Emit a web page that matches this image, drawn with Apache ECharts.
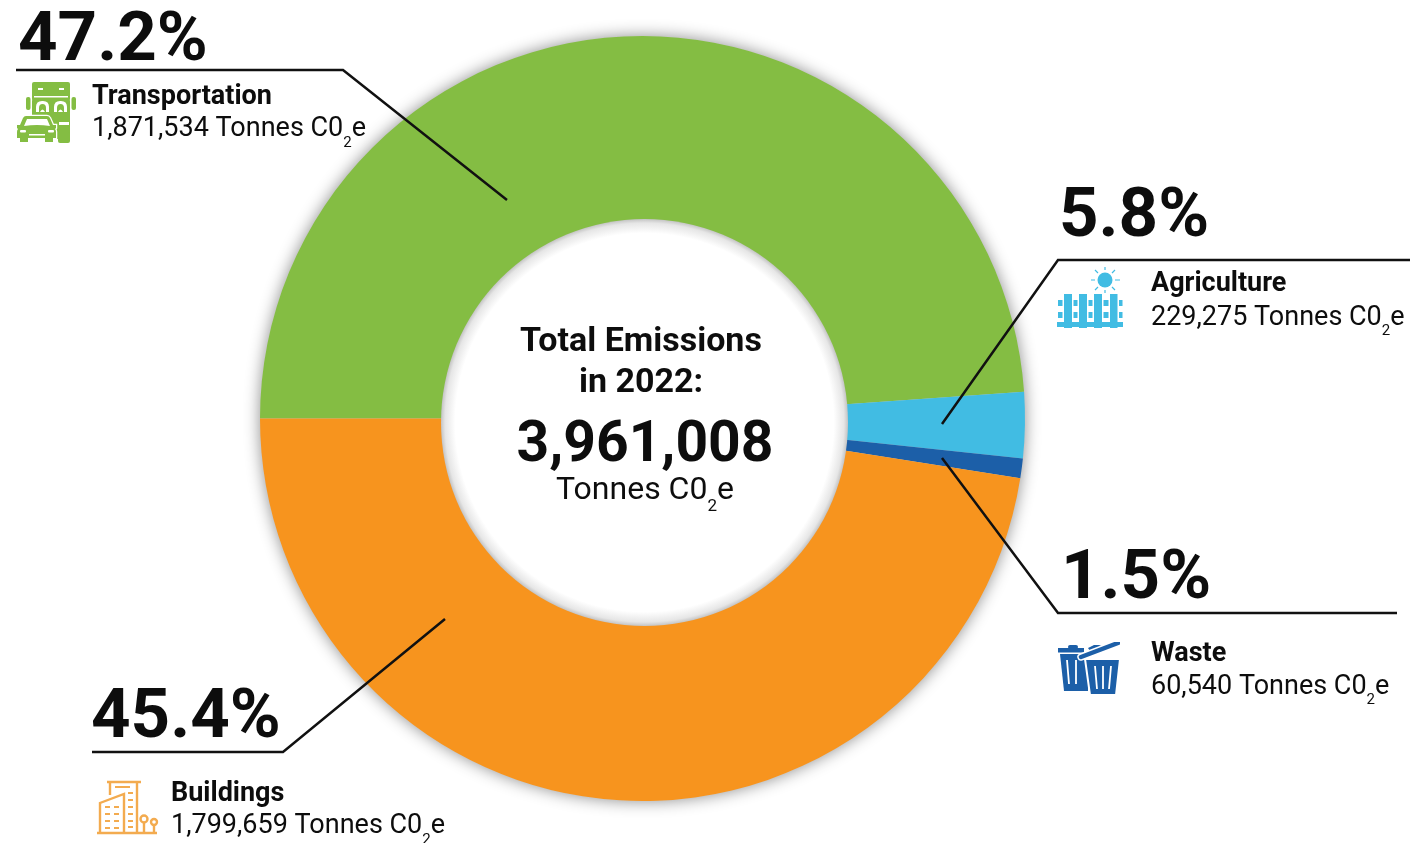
<!DOCTYPE html>
<html>
<head>
<meta charset="utf-8">
<title>Total Emissions in 2022</title>
<style>
  html, body { margin: 0; padding: 0; background: #fff; }
  #chart { width: 1412px; height: 843px; }
</style>
<script src="https://cdn.jsdelivr.net/npm/echarts@6/dist/echarts.min.js"></script>
</head>
<body>
<div id="chart"></div>
<script>
const categories = ['Transportation', 'Agriculture', 'Waste', 'Buildings'];
// slice sizes in degrees as drawn in the picture (the artwork is not to scale with its own percentages)
const drawnSweep = [176, 10, 3, 171];
const percentLabels = ['47.2%', '5.8%', '1.5%', '45.4%'];
const tonnesLabels = ['1,871,534', '229,275', '60,540', '1,799,659'];
const sliceColors = ['#84bd43', '#41bce3', '#1c5fa8', '#f7941e'];
const centerTitle = ['Total Emissions', 'in 2022:'];
const centerTotal = '3,961,008';
const unitLabel = 'Tonnes C0';

const FONT = 'Roboto';
const INK = '#0d0d0d';

const svgUri = body =>
  'data:image/svg+xml;charset=utf-8,' + encodeURIComponent(body);

const truckIcon = svgUri(`<svg xmlns="http://www.w3.org/2000/svg" width="60" height="62" viewBox="0 0 60 62">
  <g fill="#84bd43">
    <rect x="15" y="0" width="38" height="19" rx="2"/>
    <rect x="15" y="17" width="38" height="40" rx="2"/>
    <rect x="9" y="15" width="4.5" height="13" rx="2"/><rect x="54.5" y="15" width="4.5" height="13" rx="2"/>
    <rect x="41" y="50" width="12" height="11" rx="2"/>
  </g>
  <g fill="#fff">
    <rect x="21" y="6" width="5" height="2"/><rect x="42" y="6" width="5" height="2"/>
    <rect x="17" y="14" width="34" height="1.5"/>
    <path d="M19 30 v-5 q0-6 6-6 h1 q6 0 6 6 v5z"/><path d="M37 30 v-5 q0-6 6-6 h1 q6 0 6 6 v5z"/>
  </g>
  <g fill="#84bd43">
    <path d="M22 30 v-4 q0-4 3.5-4 q3.5 0 3.5 4 v4z"/><path d="M40 30 v-4 q0-4 3.5-4 q3.5 0 3.5 4 v4z"/>
  </g>
  <g fill="#fff">
    <path d="M23 30 q2.5-5 5 0z"/><path d="M41 30 q2.5-5 5 0z"/>
    <rect x="42" y="40" width="10" height="3"/>
  </g>
  <path fill="#84bd43" stroke="#fff" stroke-width="2.5" paint-order="stroke" d="M10 34 h20 q2 0 3 2 l3 7 h3 v3 l-1 1 q1 1 1 3 v6 h-3 v4 h-8 v-4 h-17 v4 h-8 v-4 h-3 v-6 q0-2 1-3 l-1-1 v-3 h3 l3-7 q1-2 3-2z"/>
  <g fill="#fff">
    <path d="M10 37 h20 l3 7 q-13-2-26 0z"/>
    <rect x="3" y="48" width="6" height="2.5" rx="1"/><rect x="31" y="48" width="6" height="2.5" rx="1"/>
    <rect x="12" y="52" width="16" height="1.5"/>
  </g>
</svg>`);

const fenceIcon = svgUri(`<svg xmlns="http://www.w3.org/2000/svg" width="66" height="62" viewBox="0 0 66 62">
  <g fill="#41bce3">
    <circle cx="48" cy="13" r="7.5"/>
    <path stroke="#41bce3" stroke-width="1.2" d="M48 0v3M48 23v3M34 13h4M58 13h5M38 3l3 3M58 3l-3 3M38 23l3-3M58 23l-3-3"/>
    <rect x="7" y="27" width="8" height="34"/><rect x="22" y="27" width="8" height="34"/>
    <rect x="37" y="27" width="8" height="34"/><rect x="53" y="27" width="7.5" height="34"/>
    <rect x="1" y="33" width="4.5" height="6"/><rect x="16.5" y="33" width="4" height="6"/>
    <rect x="31.5" y="33" width="4" height="6"/><rect x="46.5" y="33" width="5" height="6"/>
    <rect x="62" y="33" width="3.5" height="6"/>
    <rect x="1" y="45" width="4.5" height="6"/><rect x="16.5" y="45" width="4" height="6"/>
    <rect x="31.5" y="45" width="4" height="6"/><rect x="46.5" y="45" width="5" height="6"/>
    <rect x="62" y="45" width="3.5" height="6"/>
    <rect x="0" y="55" width="66" height="5"/>
  </g>
</svg>`);

const binIcon = svgUri(`<svg xmlns="http://www.w3.org/2000/svg" width="62" height="54" viewBox="0 0 62 54">
  <g fill="#1c5fa8">
    <rect x="10" y="3" width="10" height="4" rx="2"/>
    <rect x="0" y="6" width="26" height="4.5"/>
    <path d="M2 12 H30 V49 H6Z"/>
    <path d="M27 17 H62 L58 53 H32Z" stroke="#fff" stroke-width="2"/>
    <path d="M30 6 l6-3 5 0 3 1 -3 3 -5 0 -4 2z"/>
  </g>
  <path stroke="#fff" stroke-width="7.5" stroke-linecap="round" d="M23 15 L60 1"/>
  <path stroke="#1c5fa8" stroke-width="4.5" stroke-linecap="round" d="M23 15 L60 1"/>
  <g stroke="#fff" stroke-width="1.8" fill="none">
    <path d="M9 18l2 24M18 18v24"/>
    <path d="M37 24l2 23M45 24v23M53 24l-2 23"/>
  </g>
</svg>`);

const buildingIcon = svgUri(`<svg xmlns="http://www.w3.org/2000/svg" width="62" height="58" viewBox="0 0 62 58">
  <g fill="none" stroke="#f3ab4f" stroke-width="2.4">
    <path d="M10 4 H44 M13 4 V17 M40 4 V55"/>
    <path d="M3 55 V25 L27 16 V55"/>
    <path d="M0 55 H60"/>
    <path d="M47 45 V55 M57 47 V55"/>
    <circle cx="47" cy="41" r="3.5"/><circle cx="57" cy="44" r="3"/>
  </g>
  <g fill="#f3ab4f">
    <rect x="18" y="8" width="15" height="2"/>
    <rect x="31" y="14" width="5" height="2"/><rect x="31" y="21" width="5" height="2"/>
    <rect x="31" y="28" width="5" height="2"/><rect x="31" y="35" width="5" height="2"/>
    <rect x="31" y="42" width="5" height="2"/><rect x="31" y="48" width="5" height="2"/>
    <rect x="8" y="28" width="5" height="2"/><rect x="17" y="28" width="5" height="2"/>
    <rect x="8" y="35" width="5" height="2"/><rect x="17" y="35" width="5" height="2"/>
    <rect x="8" y="42" width="5" height="2"/><rect x="17" y="42" width="5" height="2"/>
    <rect x="8" y="49" width="5" height="2"/><rect x="17" y="49" width="5" height="2"/>
  </g>
</svg>`);

// annotation layout, same order as categories
const callouts = [
  { pct: [18, 43], name: [92, 97], tonnes: [92, 129.5], icon: [17, 82, 60, 62, truckIcon],
    line: [[16, 70], [343, 70], [507, 200]] },
  { pct: [1059, 219], name: [1151, 284], tonnes: [1151, 318], icon: [1057, 267, 66, 62, fenceIcon],
    line: [[942, 424], [1058, 260], [1410, 260]] },
  { pct: [1061, 581], name: [1151, 654], tonnes: [1151, 687], icon: [1058, 642, 62, 54, binIcon],
    line: [[942, 458], [1058, 613], [1397, 613]] },
  { pct: [91, 720], name: [171, 794], tonnes: [171, 826.5], icon: [97, 778, 62, 58, buildingIcon],
    line: [[92, 752], [283, 752], [445, 619]] }
];

const unitRich = (size, subSize, subDrop) => ({
  a: { fontFamily: FONT, fontSize: size, fill: INK, color: INK },
  s: {
    fontFamily: FONT, fontSize: subSize, fill: INK, color: INK,
    verticalAlign: 'bottom', padding: [subDrop, 0, 0, 0]
  }
});

const textEl = (x, y, text, size, weight, align) => ({
  type: 'text',
  x,
  y,
  z: 10,
  silent: true,
  style: {
    text,
    fill: INK,
    fontFamily: FONT,
    fontSize: size,
    fontWeight: weight,
    align: align || 'left',
    verticalAlign: 'middle'
  }
});

const unitEl = (x, y, prefix, size, subSize, subDrop, align) => ({
  type: 'text',
  x,
  y,
  z: 10,
  silent: true,
  style: {
    text: `{a|${prefix}${unitLabel}}{s|2}{a|e}`,
    rich: unitRich(size, subSize, subDrop),
    align: align || 'left',
    verticalAlign: 'middle'
  }
});

const graphics = [];
callouts.forEach((c, i) => {
  graphics.push({
    type: 'polyline',
    silent: true,
    z: 10,
    shape: { points: c.line },
    style: { stroke: '#111', lineWidth: 2.5, fill: null }
  });
  graphics.push(textEl(c.pct[0], c.pct[1], percentLabels[i], 69, 700));
  graphics.push(textEl(c.name[0], c.name[1], categories[i], 27, 700));
  graphics.push(unitEl(c.tonnes[0], c.tonnes[1], tonnesLabels[i] + ' ', 27, 15, 27));
  graphics.push({
    type: 'image',
    silent: true,
    style: { image: c.icon[4], x: c.icon[0], y: c.icon[1], width: c.icon[2], height: c.icon[3] }
  });
});
graphics.push(textEl(641, 342, centerTitle[0], 34, 700, 'center'));
graphics.push(textEl(641, 383, centerTitle[1], 34, 700, 'center'));
graphics.push(textEl(645, 447, centerTotal, 57, 700, 'center'));
graphics.push(unitEl(645, 491, '', 32, 17, 31, 'center'));

const chart = echarts.init(document.getElementById('chart'), null, { renderer: 'canvas' });

const ringCenter = [642.5, 418.5];
const ringRadius = [190, 382.5];
// the white hole sits a little off the ring's centre in the reference
const holeCenter = [644.5, 422.5];
const holeRadius = 203.5;

chart.setOption({
  backgroundColor: '#fff',
  animation: false,
  tooltip: { show: false },
  legend: { show: false },
  series: [
    {
      // soft shadow behind the ring
      type: 'pie',
      silent: true,
      z: 1,
      center: ringCenter,
      radius: ringRadius,
      startAngle: 180,
      label: { show: false },
      labelLine: { show: false },
      itemStyle: { color: '#ccc', shadowBlur: 16, shadowColor: 'rgba(0,0,0,0.45)' },
      data: [{ name: 'shadow', value: 1 }]
    },
    {
      type: 'pie',
      silent: true,
      z: 2,
      center: ringCenter,
      radius: ringRadius,
      startAngle: 180,
      clockwise: true,
      avoidLabelOverlap: false,
      label: { show: false },
      labelLine: { show: false },
      data: categories.map((name, i) => ({
        name,
        value: drawnSweep[i],
        itemStyle: { color: sliceColors[i] }
      }))
    },
    {
      // hole, with the ring's shadow fading in from its edge
      type: 'pie',
      silent: true,
      z: 3,
      center: holeCenter,
      radius: [0, holeRadius],
      label: { show: false },
      labelLine: { show: false },
      itemStyle: {
        color: {
          type: 'radial',
          x: 0.5,
          y: 0.5,
          r: 0.5,
          colorStops: [
            { offset: 0, color: '#fff' },
            { offset: 0.93, color: '#fff' },
            { offset: 0.98, color: '#e6e6e6' },
            { offset: 1, color: '#c4c4c4' }
          ]
        }
      },
      data: [{ name: 'hole', value: 1 }]
    }
  ],
  graphic: { elements: graphics }
});
</script>
</body>
</html>
